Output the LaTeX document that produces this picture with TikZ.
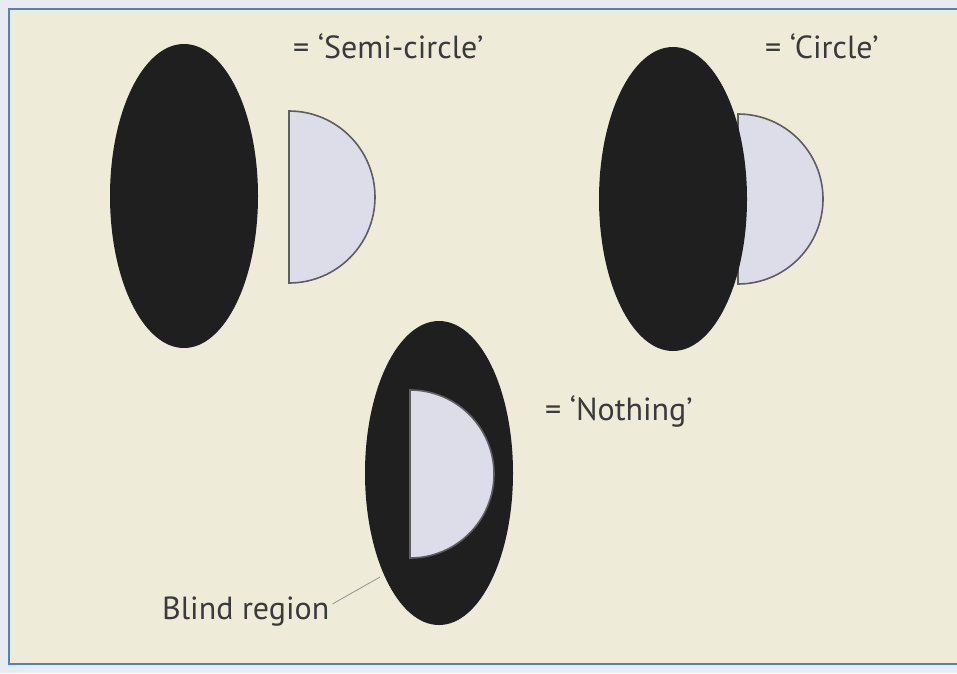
\documentclass[tikz,border=0pt]{standalone}
\usepackage{fontspec}
\setmainfont{PT Sans}
\usepackage{tikz}

\definecolor{paper}{HTML}{EEECD9}
\definecolor{outer}{HTML}{E6ECF2}
\definecolor{frame}{HTML}{4F82C4}
\definecolor{lens}{HTML}{1F1F1F}
\definecolor{halfc}{HTML}{DCDDE8}
\definecolor{rim}{HTML}{5E5E5E}
\definecolor{ink}{HTML}{3A3A3A}

\tikzset{
  blob/.style={fill=lens},
  half/.style={fill=halfc, draw=rim, line width=1.6pt},
  lab/.style={text=ink, font=\fontsize{32}{36}\selectfont, inner sep=0pt, anchor=west},
  leader/.style={draw=ink!55, line width=0.8pt}
}

\begin{document}
\begin{tikzpicture}[x=1pt,y=-1pt] % 像素坐标
        \useasboundingbox (0,0) rectangle (957,673);
        \fill[outer] (0,0) rectangle (957,673);
        \fill[paper] (9,10) rectangle (957,664);
        \draw[frame, line width=2.5pt] (957,9) -- (9,9) -- (9,664) -- (957,664);
        % 点坐标
        \coordinate (O1) at (184,196);
        \coordinate (S1) at (289,197);
        \coordinate (O2) at (673,199);
        \coordinate (S2) at (738,199);
        \coordinate (O3) at (439,473);
        \coordinate (S3) at (410,474);
        \coordinate (P) at (380,577);
        % 第一组: 半圆
        \fill[blob] (O1) ellipse [x radius=74, y radius=152];
        \draw[half] (S1) ++(0,-86) arc[start angle=-90, end angle=90, radius=86] -- cycle;
        % 第二组: 圆
        \draw[half] (S2) ++(0,-85) arc[start angle=-90, end angle=90, radius=85] -- cycle;
        \fill[blob] (O2) ellipse [x radius=74, y radius=152];
        % 第三组: 什么都没有
        \fill[blob] (O3) ellipse [x radius=74, y radius=152];
        \draw[half] (S3) ++(0,-84) arc[start angle=-90, end angle=90, radius=84] -- cycle;
        % 标注
        \node[lab] (semi) at (293,46) {= `Semi-circle'};
        \node[lab] (circ) at (765,46) {= `Circle'};
        \node[lab] (noth) at (545,411) {= `Nothing'};
        \node[lab] (blind) at (162,612) {Blind region};
        \draw[leader] ([shift={(3,-8)}]blind.east) -- (P);
    \end{tikzpicture}
\end{document}
